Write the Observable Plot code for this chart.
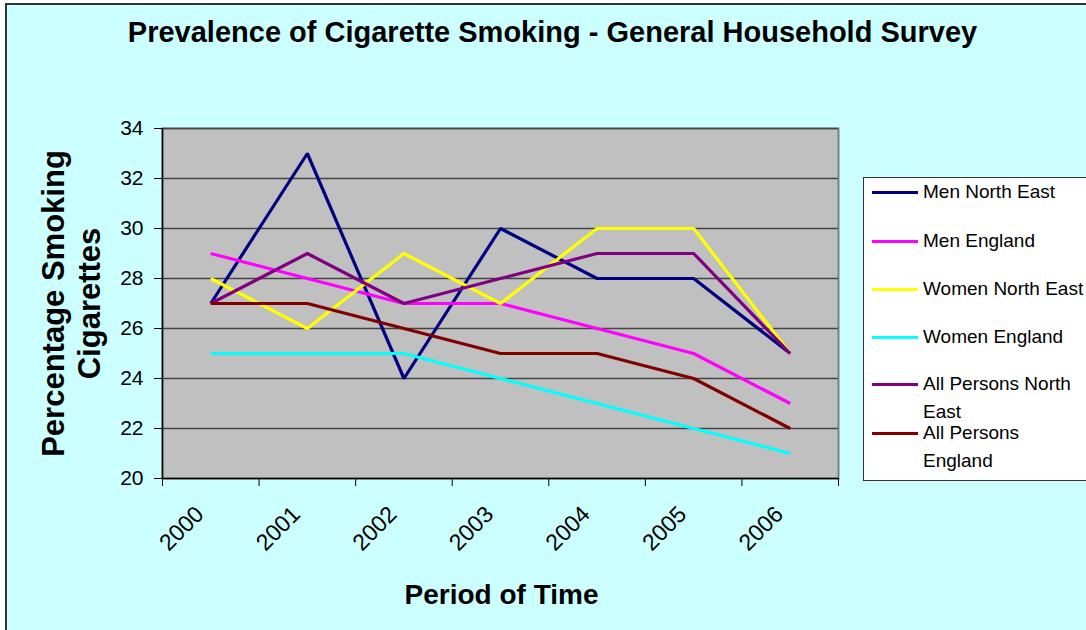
<!DOCTYPE html>
<html>
<head>
<meta charset="utf-8">
<script src="https://cdn.jsdelivr.net/npm/d3@7"></script>
<script src="https://cdn.jsdelivr.net/npm/@observablehq/plot@0.6"></script>
<style>
  html, body { margin: 0; padding: 0; background: #ffffff; }
  #wrap { position: relative; width: 1086px; height: 630px; overflow: hidden; font-family: "Liberation Sans", Arial, sans-serif; }
  #bg { position: absolute; left: 5px; top: 3px; width: 1100px; height: 640px; background: #ccffff; border-left: 2px solid #333; border-top: 2px solid #333; }
  #chart { position: absolute; left: 0; top: 0; }
  #legend { position: absolute; left: 863px; top: 177px; width: 240px; height: 302px; background: #ffffff; border: 1.5px solid #333; }
  .sw { position: absolute; width: 46px; height: 3px; }
  .lt { position: absolute; font-size: 19px; line-height: 28px; color: #000; white-space: nowrap; }
</style>
</head>
<body>
<div id="wrap">
  <div id="bg"></div>
  <div id="chart"></div>
  <div id="legend"></div>
</div>
<script>
// ---- data ----
const years = [2000, 2001, 2002, 2003, 2004, 2005, 2006];
const seriesNames = ["Men North East", "Men England", "Women North East", "Women England", "All Persons North East", "All Persons England"];
const menNorthEast = [27, 33, 24, 30, 28, 28, 25];
const menEngland = [29, 28, 27, 27, 26, 25, 23];
const womenNorthEast = [28, 26, 29, 27, 30, 30, 25];
const womenEngland = [25, 25, 25, 24, 23, 22, 21];
const allNorthEast = [27, 29, 27, 28, 29, 29, 25];
const allEngland = [27, 27, 26, 25, 25, 24, 22];
const seriesColors = ["#000080", "#ff00ff", "#ffff00", "#00ffff", "#800080", "#800000"];
const yTicks = [20, 22, 24, 26, 28, 30, 32, 34];
const legendLabels = [["Men North East"], ["Men England"], ["Women North East"], ["Women England"], ["All Persons North", "East"], ["All Persons", "England"]];

const seriesValues = [menNorthEast, menEngland, womenNorthEast, womenEngland, allNorthEast, allEngland];
const rows = [];
seriesNames.forEach((name, i) => {
  years.forEach((yr, j) => rows.push({series: name, year: yr, value: seriesValues[i][j]}));
});
const bandEdges = years.map(y => y - 0.5).concat([years[years.length - 1] + 0.5]);

const font = "Liberation Sans, Arial, sans-serif";

const chart = Plot.plot({
  width: 1086,
  height: 630,
  marginLeft: 162,
  marginRight: 248,
  marginTop: 128,
  marginBottom: 152,
  style: {background: "transparent", fontFamily: font, color: "#000"},
  x: {domain: [bandEdges[0], bandEdges[bandEdges.length - 1]]},
  y: {domain: [20, 34]},
  color: {domain: seriesNames, range: seriesColors},
  marks: [
    Plot.frame({fill: "#c0c0c0", stroke: "#808080", strokeWidth: 2}),
    Plot.ruleY(yTicks.slice(1), {stroke: "#444", strokeWidth: 1.5}),
    Plot.ruleY([20], {stroke: "#000", strokeWidth: 1.5}),
    Plot.ruleX([bandEdges[0]], {stroke: "#000", strokeWidth: 1.5}),
    Plot.axisY({ticks: yTicks, tickSize: 8, tickPadding: 11, fontSize: 21, label: null, tickFormat: d => String(d)}),
    Plot.axisX({ticks: bandEdges, tickSize: 8, tickFormat: () => "", label: null}),
    Plot.axisX({ticks: years, tickSize: 0, tickRotate: -45, tickPadding: 32, dx: -11, fontSize: 23, label: null, tickFormat: d => String(d)}),
    Plot.line(rows, {x: "year", y: "value", z: "series", stroke: "series", strokeWidth: 3.2, strokeLinejoin: "miter", strokeLinecap: "butt"}),
    Plot.text(["Prevalence of Cigarette Smoking - General Household Survey"], {frameAnchor: "top", dx: 52, dy: -96, fontSize: 29, fontWeight: "bold", lineAnchor: "middle"}),
    Plot.text(["Period of Time"], {frameAnchor: "bottom", dx: 1, dy: 117, fontSize: 28, fontWeight: "bold", lineAnchor: "middle"}),
    Plot.text(["Percentage Smoking\nCigarettes"], {frameAnchor: "left", dx: -92, rotate: -90, textAnchor: "middle", fontSize: 31, fontWeight: "bold", lineAnchor: "middle", lineHeight: 1.17})
  ]
});
document.getElementById("chart").appendChild(chart);

// ---- legend ----
const legend = document.getElementById("legend");
const lineY = [192, 241, 289, 337, 384, 433];
seriesNames.forEach((name, i) => {
  const sw = document.createElement("div");
  sw.className = "sw";
  sw.style.background = seriesColors[i];
  sw.style.left = (872 - 864) + "px";
  sw.style.top = (lineY[i] - 178 - 1.5) + "px";
  legend.appendChild(sw);
  legendLabels[i].forEach((txt, k) => {
    const t = document.createElement("div");
    t.className = "lt";
    t.textContent = txt;
    t.style.left = (923 - 864) + "px";
    t.style.top = (lineY[i] + k * 28 - 178 - 14) + "px";
    legend.appendChild(t);
  });
});
</script>
</body>
</html>
